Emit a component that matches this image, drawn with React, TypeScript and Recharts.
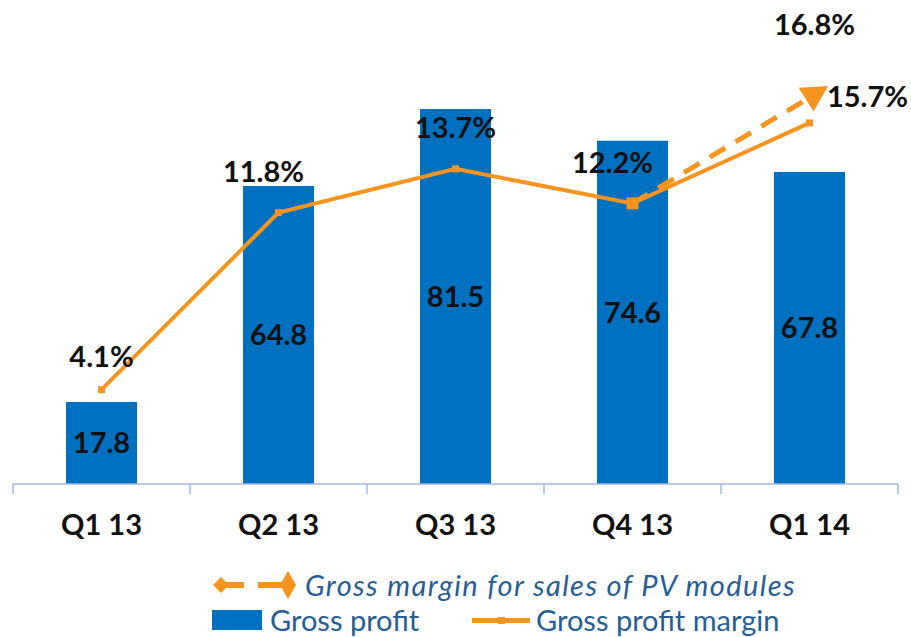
import React from 'react';
import {
  ComposedChart,
  Bar,
  Line,
  XAxis,
  YAxis,
  LabelList
} from 'recharts';

const quarters = ['Q1 13', 'Q2 13', 'Q3 13', 'Q4 13', 'Q1 14'];
const grossProfit = [17.8, 64.8, 81.5, 74.6, 67.8];
const grossMargin = [4.1, 11.8, 13.7, 12.2, 15.7];
const pvModuleMargin = [null, null, null, 12.2, 16.8];

const BLUE = '#0070C0';
const ORANGE = '#F7941D';
const LEGEND_TEXT = '#245E94';
const FONT = 'Lato, "Open Sans", sans-serif';

const data = quarters.map((q, i) => ({
  quarter: q,
  profit: grossProfit[i],
  margin: grossMargin[i],
  pv: pvModuleMargin[i]
}));

// tick labels centred, tick marks on category boundaries
const QuarterTick = (props: any) => {
  const { x, y, payload, index, visibleTicksCount } = props;
  const half = payload && payload.offset ? payload.offset : 88.5;
  const isLast = index === visibleTicksCount - 1;
  return (
    <g>
      <line x1={x - half} y1={y} x2={x - half} y2={y + 10} stroke="#A3B8DC" strokeWidth={1.5} />
      {isLast && (
        <line x1={x + half} y1={y} x2={x + half} y2={y + 10} stroke="#A3B8DC" strokeWidth={1.5} />
      )}
      <text x={x} y={y + 51} textAnchor="middle" fill="#111" fontSize={29} fontWeight="bold" fontFamily={FONT}>
        {payload.value}
      </text>
    </g>
  );
};

const marginShift = [
  { dx: 0, dy: -23 },
  { dx: -15, dy: -31 },
  { dx: 0, dy: -31 },
  { dx: -20, dy: -30 },
  { dx: 58, dy: -16 }
];

const MarginLabel = (props: any) => {
  const { x, y, value, index } = props;
  if (value == null) return null;
  const s = marginShift[index] || { dx: 0, dy: -25 };
  return (
    <text x={x + s.dx} y={y + s.dy} textAnchor="middle" fill="#111" fontSize={29} fontWeight="bold" fontFamily={FONT}>
      {value.toFixed(1)}%
    </text>
  );
};

const PvLabel = (props: any) => {
  const { x, y, value, index } = props;
  if (value == null || index !== 4) return null;
  return (
    <text x={x + 5} y={y - 63} textAnchor="middle" fill="#111" fontSize={29} fontWeight="bold" fontFamily={FONT}>
      {value.toFixed(1)}%
    </text>
  );
};

const MarginDot = (props: any) => {
  const { cx, cy, index } = props;
  if (cx == null || cy == null) return <g key={`m${index}`} />;
  return <rect key={`m${index}`} x={cx - 3.5} y={cy - 3.5} width={7} height={7} fill={ORANGE} />;
};

const PvDot = (props: any) => {
  const { cx, cy, index, value } = props;
  if (cx == null || cy == null || value == null) return <g key={`p${index}`} />;
  if (index === 3) {
    return <rect key={`p${index}`} x={cx - 6} y={cy - 6} width={12} height={12} fill={ORANGE} />;
  }
  // arrow head at the end of the dashed line
  return (
    <g key={`p${index}`} transform={`translate(${cx},${cy}) rotate(-32)`}>
      <polygon points="-4,-14 22,0 -4,14" fill={ORANGE} />
    </g>
  );
};

const Legend = () => (
  <div style={{ position: 'absolute', left: 0, top: 0, width: 911, height: 637, pointerEvents: 'none' }}>
    <svg width={911} height={637} style={{ position: 'absolute', left: 0, top: 0 }}>
      <polygon points="213,585 221,577 229,585 221,593" fill={ORANGE} />
      <rect x={226} y={582} width={18} height={6} fill={ORANGE} />
      <rect x={258} y={582} width={24} height={6} fill={ORANGE} />
      <polygon points="280,585 288,571 296,585 288,599" fill={ORANGE} />
      <rect x={212} y={610} width={50} height={20} fill={BLUE} />
      <rect x={472} y={618} width={58} height={5} fill={ORANGE} />
      <rect x={498} y={617} width={7} height={7} fill={ORANGE} />
    </svg>
    <div style={{ position: 'absolute', left: 305, top: 567, fontFamily: FONT, fontStyle: 'italic', fontSize: 29, letterSpacing: 1.4, color: LEGEND_TEXT, whiteSpace: 'nowrap', lineHeight: '36px' }}>
      Gross margin for sales of PV modules
    </div>
    <div style={{ position: 'absolute', left: 270, top: 602, fontFamily: FONT, fontSize: 29, color: LEGEND_TEXT, whiteSpace: 'nowrap', lineHeight: '36px' }}>
      Gross profit
    </div>
    <div style={{ position: 'absolute', left: 536, top: 602, fontFamily: FONT, fontSize: 29, color: LEGEND_TEXT, whiteSpace: 'nowrap', lineHeight: '36px' }}>
      Gross profit margin
    </div>
  </div>
);

export default function App() {
  return (
    <div style={{ position: 'absolute', left: 0, top: 0, width: 911, height: 637, background: '#fff' }}>
      <ComposedChart
        width={911}
        height={637}
        data={data}
        margin={{ top: 24, right: 13, left: 13, bottom: 93 }}
        barCategoryGap="30%"
      >
        <XAxis
          dataKey="quarter"
          height={60}
          axisLine={{ stroke: '#A3B8DC', strokeWidth: 1.5 }}
          tickLine={false}
          tickSize={0}
          tickMargin={0}
          interval={0}
          tick={<QuarterTick />}
        />
        <YAxis yAxisId="left" hide domain={[0, 100]} />
        <YAxis yAxisId="right" orientation="right" hide domain={[0, 20]} />
        <Bar yAxisId="left" dataKey="profit" fill={BLUE} barSize={71} isAnimationActive={false}>
          <LabelList dataKey="profit" position="center" fill="#111" fontSize={29} fontWeight="bold" fontFamily={FONT} />
        </Bar>
        <Line
          yAxisId="right"
          dataKey="pv"
          stroke={ORANGE}
          strokeWidth={5}
          strokeDasharray="18 12"
          dot={<PvDot />}
          activeDot={false}
          connectNulls={false}
          isAnimationActive={false}
        >
          <LabelList dataKey="pv" content={<PvLabel />} />
        </Line>
        <Line
          yAxisId="right"
          dataKey="margin"
          stroke={ORANGE}
          strokeWidth={4}
          dot={<MarginDot />}
          activeDot={false}
          isAnimationActive={false}
        >
          <LabelList dataKey="margin" content={<MarginLabel />} />
        </Line>
      </ComposedChart>
      <Legend />
    </div>
  );
}
